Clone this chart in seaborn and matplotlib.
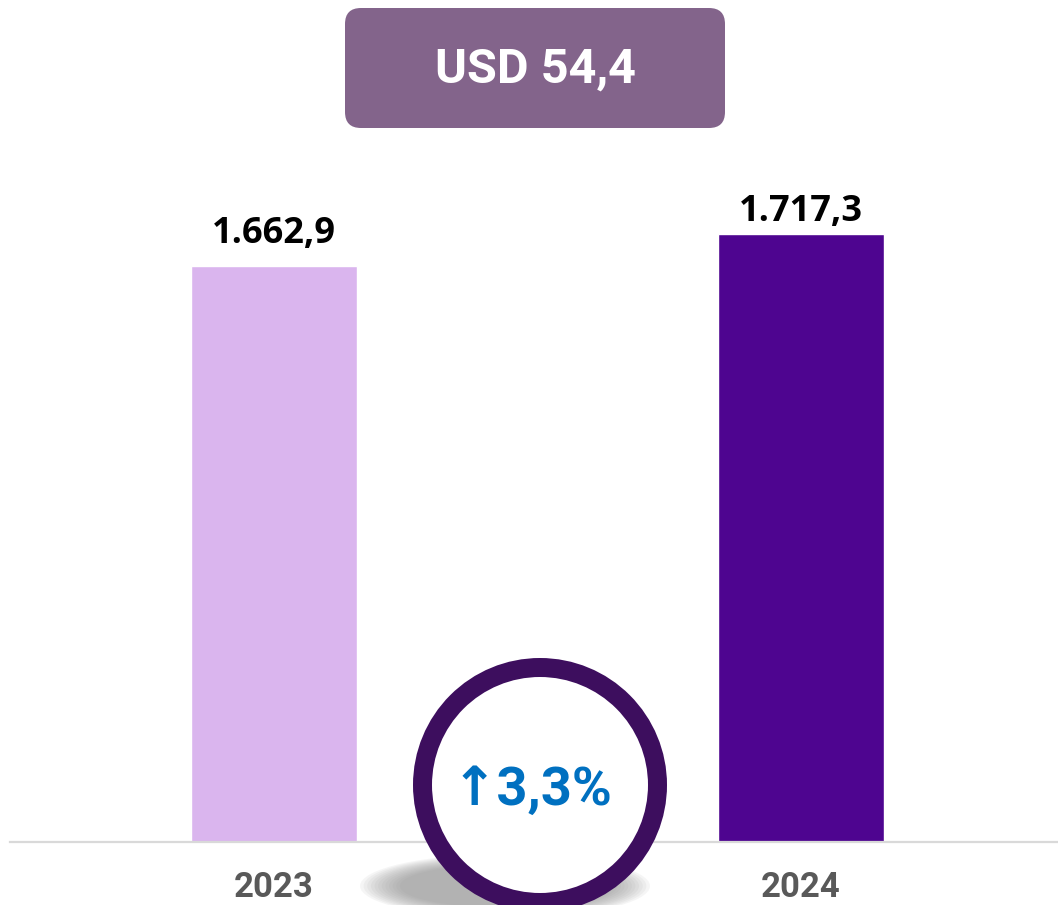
import matplotlib
matplotlib.use("Agg")
import matplotlib.pyplot as plt
import seaborn as sns
import pandas as pd
from matplotlib.patches import FancyBboxPatch, Circle, Ellipse

# ---- data ----
years = ["2023", "2024"]
values = [1662.9, 1717.3]
value_labels = ["1.662,9", "1.717,3"]
bar_colors = ["#DAB5EE", "#4E0590"]
box_text = "USD 54,4"
change_text = "↑3,3%"

sns.set_theme(style="white")
COND = ['Roboto', 'DejaVu Sans']
plt.rcParams['font.family'] = COND

W, H = 1058, 905
fig = plt.figure(figsize=(W / 100, H / 100), dpi=100)
fig.patch.set_facecolor("white")

# main axes in pixel placement
left, right, top, base = 10, 1058, 140, 842
ax = fig.add_axes([left / W, (H - base) / H, (right - left) / W, (base - top) / H])

df = pd.DataFrame({"year": years, "value": values})
sns.barplot(data=df, x="year", y="value", hue="year", palette=bar_colors,
            width=0.315, legend=False, ax=ax, saturation=1)

y0 = 684
ax.set_ylim(y0, 1877)
ax.set_xlim(-0.501, 1.488)
ax.set_yticks([])
ax.set_ylabel("")
ax.set_xlabel("")
for s in ["top", "right", "left"]:
    ax.spines[s].set_visible(False)
ax.spines["bottom"].set_color("#D9D9D9")
ax.spines["bottom"].set_linewidth(1.6)
ax.tick_params(axis="x", length=0, pad=21)
for lbl in ax.get_xticklabels():
    lbl.set_fontfamily(COND)
    lbl.set_fontweight("bold")
    lbl.set_fontsize(25)
    lbl.set_color("#595959")

offsets = [10, 3]
for i, (v, t) in enumerate(zip(values, value_labels)):
    ax.annotate(t, (i, v), xytext=(0, offsets[i]), textcoords="offset points",
                ha="center", va="bottom", fontsize=26, fontweight="bold",
                family=["Open Sans", "DejaVu Sans"], color="black")

# overlay in pixel coordinates
ov = fig.add_axes([0, 0, 1, 1], zorder=5)
ov.set_xlim(0, W)
ov.set_ylim(H, 0)
ov.axis("off")
ov.patch.set_alpha(0)

# header box
box = FancyBboxPatch((345 + 16, 8 + 16), 380 - 32, 120 - 32,
                     boxstyle="round,pad=16", fc="#83648B", ec="none")
ov.add_patch(box)
ov.text(535, 70, box_text, ha="center", va="center", color="white",
        fontsize=35, fontweight="bold", family=COND)

# shadow
for k in range(12):
    f = 1 - k / 12
    ov.add_patch(Ellipse((505, 886), 290 * (0.7 + 0.3 * f), 64 * (0.65 + 0.35 * f),
                         fc="#8A8A8A", ec="none", alpha=0.08, zorder=1))

# circle
cx, cy, r_out, thick = 540, 785, 127, 19
ov.add_patch(Circle((cx, cy), r_out - thick / 2, fc="white", ec="#3D0E5E",
                    lw=thick * 0.72, zorder=3))
ov.text(532, 790, change_text, ha="center", va="center", color="#0070C0",
        fontsize=39, fontweight="bold", family=COND, zorder=4)

fig.savefig("out.png", dpi=100)
